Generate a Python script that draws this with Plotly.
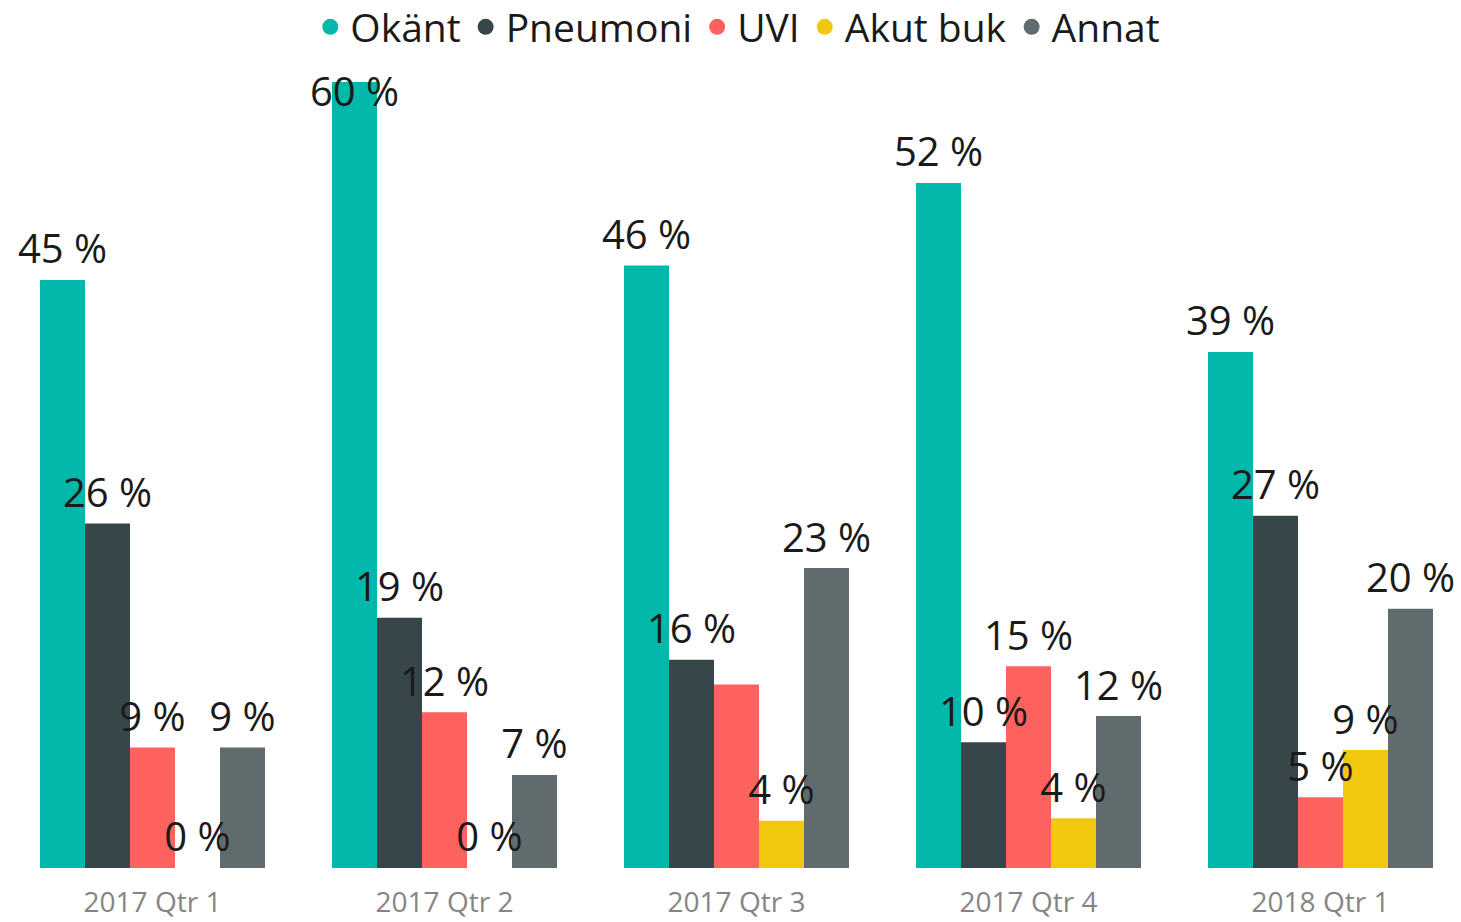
import plotly.graph_objects as go

quarters = ["2017 Qtr 1", "2017 Qtr 2", "2017 Qtr 3", "2017 Qtr 4", "2018 Qtr 1"]
series_names = ["Okänt", "Pneumoni", "UVI", "Akut buk", "Annat"]
okant = [44.9, 60.0, 46.0, 52.3, 39.4]
pneumoni = [26.3, 19.1, 15.9, 9.6, 26.9]
uvi = [9.2, 11.9, 14.0, 15.4, 5.4]
akut_buk = [0.0, 0.0, 3.6, 3.8, 9.0]
annat = [9.2, 7.1, 22.9, 11.6, 19.8]
# labels hidden in the original (overlap): (series index, quarter index)
hidden_labels = [(2, 2)]

colors = ["#01B8AA", "#374649", "#FD625E", "#F2C80F", "#5F6B6D"]
values = [okant, pneumoni, uvi, akut_buk, annat]

n_series = len(series_names)
bar_w = 45 / 292
y_max = 61.0
label_pad = 0.5
label_cap = 57.4

fig = go.Figure()
for si, (name, vals, col) in enumerate(zip(series_names, values, colors)):
    xs = [qi + (si - (n_series - 1) / 2) * bar_w for qi in range(len(quarters))]
    fig.add_trace(go.Bar(
        x=xs, y=vals, width=bar_w, name=name, marker=dict(color=col, line=dict(width=0)),
        showlegend=False, hoverinfo="skip",
    ))
for si, (name, vals, col) in enumerate(zip(series_names, values, colors)):
    xs = [qi + (si - (n_series - 1) / 2) * bar_w for qi in range(len(quarters))]
    texts = ["" if (si, qi) in hidden_labels else f"{round(v)} %" for qi, v in enumerate(vals)]
    ys = [min(v + label_pad, label_cap) for v in vals]
    fig.add_trace(go.Scatter(
        x=xs, y=ys, mode="text", text=texts, textposition="top center",
        textfont=dict(family="Open Sans", size=40, color="#1a1a1a"),
        showlegend=False, hoverinfo="skip", cliponaxis=False,
    ))
for name, col in zip(series_names, colors):
    fig.add_trace(go.Scatter(
        x=[None], y=[None], mode="markers", name=name,
        marker=dict(color=col, size=20, symbol="circle"),
    ))

fig.update_layout(
    width=1461, height=922,
    paper_bgcolor="white", plot_bgcolor="white",
    margin=dict(l=0, r=0, t=69, b=54, autoexpand=False),
    barmode="overlay",
    font=dict(family="Open Sans", color="#252423"),
    legend=dict(
        orientation="h", x=0.505, xanchor="center",
        yref="container", y=1 - 27 / 922, yanchor="middle",
        font=dict(family="Open Sans", size=39, color="#1a1a1a"),
        itemwidth=30, tracegroupgap=0, traceorder="normal",
    ),
    xaxis=dict(
        range=[-152.5 / 292, (1461 - 152.5) / 292],
        tickmode="array", tickvals=list(range(len(quarters))), ticktext=quarters,
        showgrid=False, zeroline=False, showline=False, automargin=False,
        ticks="outside", ticklen=9, tickcolor="rgba(0,0,0,0)",
        tickfont=dict(family="Open Sans", size=28, color="#858585"),
    ),
    yaxis=dict(range=[0, y_max], visible=False, automargin=False),
)

fig.write_html("out.html", config={"displayModeBar": False},
               post_script="document.body.style.margin='0';")
